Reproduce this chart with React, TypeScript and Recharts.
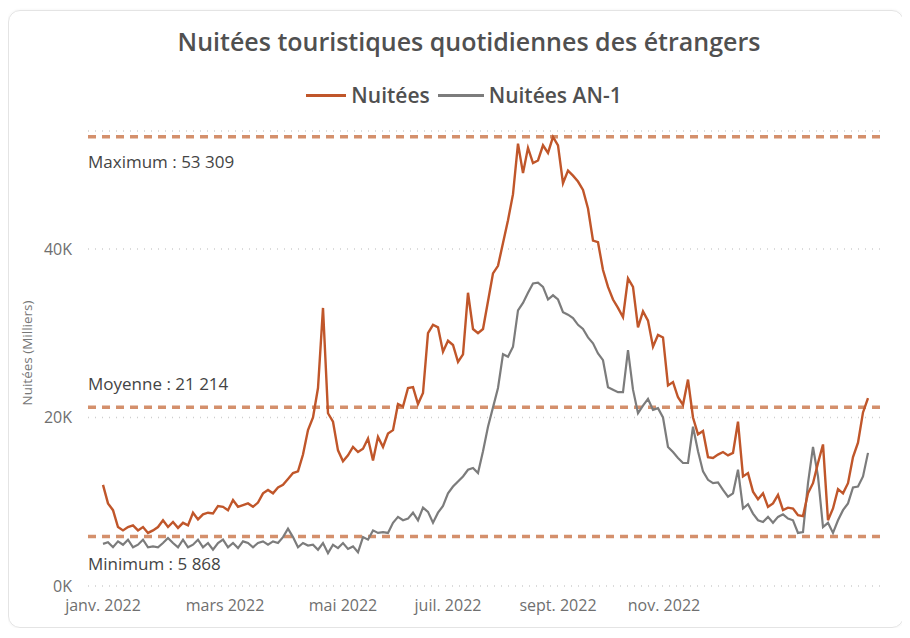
import { LineChart, Line, XAxis, YAxis, CartesianGrid, ReferenceLine } from "recharts"

// daily foreign overnight stays, in thousands (sampled along the year)
const nuitees = [
  12.0, 9.8, 9.0, 7.0, 6.6, 7.0, 7.2, 6.6, 7.0, 6.3,
  6.6, 7.0, 7.8, 7.0, 7.6, 6.9, 7.5, 7.2, 8.7, 7.9,
  8.5, 8.7, 8.6, 9.5, 9.4, 9.0, 10.2, 9.4, 9.6, 9.8,
  9.4, 9.9, 11.0, 11.4, 11.0, 11.7, 12.0, 12.7, 13.4, 13.6,
  15.6, 18.5, 20.0, 23.5, 33.0, 20.5, 19.5, 16.1, 14.8, 15.5,
  16.5, 15.9, 16.3, 17.5, 14.9, 17.7, 16.5, 18.1, 18.5, 21.6,
  21.3, 23.5, 23.6, 21.6, 22.9, 30.0, 31.0, 30.7, 27.8, 29.1,
  28.6, 26.6, 27.5, 34.8, 30.5, 30.0, 30.5, 33.8, 37.1, 38.0,
  40.7, 43.4, 46.5, 52.5, 49.0, 52.0, 50.2, 50.5, 52.3, 51.4,
  53.3, 52.3, 47.8, 49.3, 48.7, 48.0, 47.0, 44.8, 41.0, 40.8,
  37.5, 35.5, 34.0, 33.0, 31.9, 36.5, 35.5, 30.7, 32.6, 31.5,
  28.4, 29.8, 29.5, 23.8, 24.2, 22.4, 21.5, 24.5, 20.0, 18.0,
  18.4, 15.3, 15.2, 15.6, 15.9, 15.5, 15.8, 19.5, 13.0, 13.4,
  11.2, 10.3, 11.0, 9.4, 9.8, 10.8, 9.0, 9.3, 9.2, 8.4,
  8.3, 11.0, 12.2, 14.6, 16.8, 7.8, 9.2, 11.5, 11.0, 12.2,
  15.3, 17.0, 20.6, 22.3,
]

// same days, previous year
const nuiteesAn1 = [
  5.0, 5.2, 4.6, 5.3, 4.9, 5.5, 4.6, 4.9, 5.5, 4.6,
  4.7, 4.6, 5.1, 5.7, 5.1, 4.6, 5.5, 4.6, 4.9, 5.5,
  4.6, 5.1, 4.3, 5.1, 5.5, 4.6, 5.1, 4.5, 5.3, 5.1,
  4.6, 5.1, 5.3, 4.9, 5.3, 5.1, 5.8, 6.8, 5.8, 4.6,
  5.1, 4.8, 4.9, 4.3, 5.1, 3.9, 4.9, 4.5, 5.1, 4.4,
  4.7, 4.0, 5.8, 5.5, 6.6, 6.3, 6.4, 6.3, 7.5, 8.2,
  7.8, 8.0, 8.7, 7.8, 9.3, 8.8, 7.5, 8.7, 9.5, 11.0,
  11.8, 12.4, 13.0, 13.8, 14.0, 13.4, 16.0, 18.9, 21.2, 23.5,
  27.5, 27.2, 28.4, 32.7, 33.6, 34.8, 35.9, 36.0, 35.5, 34.0,
  34.5, 34.0, 32.5, 32.2, 31.8, 31.0, 30.5, 29.5, 28.8, 27.6,
  26.8, 23.6, 23.3, 23.0, 23.0, 28.0, 23.3, 20.5, 21.4, 22.2,
  20.9, 21.1, 20.0, 16.5, 15.9, 15.2, 14.6, 14.6, 18.9, 16.0,
  13.6, 12.6, 12.2, 12.3, 11.4, 10.6, 11.0, 13.8, 9.2, 9.7,
  8.6, 7.8, 7.6, 8.2, 7.5, 8.2, 8.5, 8.0, 7.8, 6.3,
  6.4, 12.2, 16.5, 13.0, 7.0, 7.5, 6.3, 7.8, 9.0, 9.8,
  11.7, 11.8, 13.0, 15.8,
]

const monthLabels = ["janv. 2022", "mars 2022", "mai 2022", "juil. 2022", "sept. 2022", "nov. 2022"]
const monthTicks = [0, 24.4, 48, 69, 91, 112.2]
const yTicks = [0, 20, 40]

const maximum = 53.309
const moyenne = 21.214
const minimum = 5.868

const ORANGE = "#c0562a"
const GREY = "#7c7c7c"
const REF = "#d4906c"
const FONT = "'Open Sans', sans-serif"

const data = nuitees.map((v, i) => ({ i, nuitees: v, an1: nuiteesAn1[i] }))

const fmt = (v: number) => Math.round(v * 1000).toLocaleString("fr-FR").replace(/\s/g, " ")

function RefLabel({ viewBox, text, dy }: any) {
  if (!viewBox) return null
  return (
    <text x={viewBox.x} y={viewBox.y + dy} fill="#444" fontSize={17} fontFamily={FONT} dominantBaseline="middle">
      {text}
    </text>
  )
}

export default function App() {
  return (
    <div
      style={{
        position: "relative",
        width: 896,
        height: 618,
        marginTop: 2,
        fontFamily: FONT,
      }}
    >
      {/* card */}
      <div
        style={{
          position: "absolute",
          inset: 0,
          border: "1px solid #e4e4e4",
          borderRadius: 12,
          boxShadow: "0 0 3px rgba(0,0,0,0.06)",
        }}
      />

      {/* Title */}
      <div
        style={{
          position: "absolute",
          top: 14,
          left: 14,
          width: 894,
          textAlign: "center",
          fontSize: 25,
          fontWeight: 600,
          color: "#505050",
        }}
      >
        Nuitées touristiques quotidiennes des étrangers
      </div>

      {/* Legend */}
      <div
        style={{
          position: "absolute",
          top: 71,
          left: 9,
          width: 894,
          display: "flex",
          justifyContent: "center",
          alignItems: "center",
          fontSize: 21,
          fontWeight: 600,
          color: "#505050",
        }}
      >
        <span style={{ display: "inline-block", width: 40, height: 3, background: ORANGE, marginRight: 5 }} />
        <span style={{ marginRight: 8 }}>Nuitées</span>
        <span style={{ display: "inline-block", width: 46, height: 3, background: GREY, marginRight: 5 }} />
        <span>Nuitées AN-1</span>
      </div>

      {/* Y axis title */}
      <div
        style={{
          position: "absolute",
          left: 19,
          top: 343,
          transform: "translate(-50%, -50%) rotate(-90deg)",
          fontSize: 13.5,
          color: "#777",
          whiteSpace: "nowrap",
        }}
      >
        Nuitées (Milliers)
      </div>

      <div style={{ position: "absolute", left: 0, top: 0 }}>
        <LineChart width={894} height={618} data={data} margin={{ top: 121, right: 22, bottom: 12, left: 20 }}>
          <CartesianGrid vertical={false} stroke="#cfcfcf" strokeDasharray="1 6" strokeWidth={1.5} />
          <XAxis
            dataKey="i"
            type="number"
            domain={[-3, 155.4]}
            ticks={monthTicks}
            tickFormatter={(v: number) => monthLabels[monthTicks.indexOf(v)] ?? ""}
            axisLine={false}
            tickLine={false}
            tickMargin={8}
            height={30}
            interval={0}
            tick={{ fill: "#6f6f6f", fontSize: 16, fontFamily: FONT }}
          />
          <YAxis
            domain={[0, 54]}
            ticks={yTicks}
            tickFormatter={(v: number) => `${v}K`}
            axisLine={false}
            tickLine={false}
            tickMargin={10}
            width={60}
            tick={{ fill: "#6f6f6f", fontSize: 16, fontFamily: FONT }}
          />
          <ReferenceLine
            y={maximum}
            stroke={REF}
            strokeWidth={3.5}
            strokeDasharray="8 6"
            label={<RefLabel text={`Maximum : ${fmt(maximum)}`} dy={27} />}
          />
          <ReferenceLine
            y={moyenne}
            stroke={REF}
            strokeWidth={3.5}
            strokeDasharray="8 6"
            label={<RefLabel text={`Moyenne : ${fmt(moyenne)}`} dy={-22} />}
          />
          <ReferenceLine
            y={minimum}
            stroke={REF}
            strokeWidth={3.5}
            strokeDasharray="8 6"
            label={<RefLabel text={`Minimum : ${fmt(minimum)}`} dy={29} />}
          />
          <Line
            type="linear"
            dataKey="an1"
            stroke={GREY}
            strokeWidth={2.2}
            dot={false}
            isAnimationActive={false}
          />
          <Line
            type="linear"
            dataKey="nuitees"
            stroke={ORANGE}
            strokeWidth={2.4}
            dot={false}
            isAnimationActive={false}
          />
        </LineChart>
      </div>
    </div>
  )
}
